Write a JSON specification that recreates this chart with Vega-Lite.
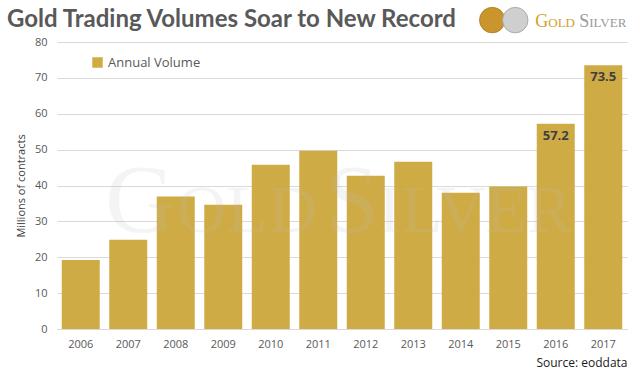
{
  "$schema": "https://vega.github.io/schema/vega-lite/v6.json",
  "width": 570,
  "height": 287,
  "autosize": {"type": "none"},
  "padding": {"left": 57, "top": 42, "right": 13, "bottom": 50},
  "background": "white",
  "config": {"view": {"stroke": null}, "font": "Lato"},
  "title": {
    "text": "Gold Trading Volumes Soar to New Record",
    "anchor": "start",
    "frame": "group",
    "dx": -50,
    "offset": -26,
    "font": "Lato",
    "fontSize": 24,
    "fontWeight": "bold",
    "color": "#595959"
  },
  "datasets": {
    "volumes": [
      {"year": "2006", "v": 19.2, "series": "Annual Volume"},
      {"year": "2007", "v": 24.9, "series": "Annual Volume"},
      {"year": "2008", "v": 36.9, "series": "Annual Volume"},
      {"year": "2009", "v": 34.6, "series": "Annual Volume"},
      {"year": "2010", "v": 45.8, "series": "Annual Volume"},
      {"year": "2011", "v": 49.7, "series": "Annual Volume"},
      {"year": "2012", "v": 42.7, "series": "Annual Volume"},
      {"year": "2013", "v": 46.6, "series": "Annual Volume"},
      {"year": "2014", "v": 38.0, "series": "Annual Volume"},
      {"year": "2015", "v": 39.7, "series": "Annual Volume"},
      {"year": "2016", "v": 57.2, "series": "Annual Volume"},
      {"year": "2017", "v": 73.5, "series": "Annual Volume"}
    ],
    "labels": [
      {"year": "2016", "v": 57.2},
      {"year": "2017", "v": 73.5}
    ],
    "watermark": [
      {"year": "2011", "v": 27, "big1": "G", "small1": "OLD", "big2": "S", "small2": "ILVER"}
    ],
    "logo": [
      {"year": "2017", "v": 84.2, "big1": "G", "small1": "OLD", "big2": "S", "small2": "ILVER"}
    ],
    "coins": [
      {"year": "2015", "v": 86.1, "metal": "gold"},
      {"year": "2015", "v": 86.1, "metal": "silver"}
    ]
  },
  "encoding": {
    "x": {
      "field": "year",
      "type": "ordinal",
      "scale": {"paddingInner": 0.2, "paddingOuter": 0.1},
      "axis": {
        "labelAngle": 0,
        "labelFontSize": 11,
        "labelColor": "#595959",
        "labelFont": "Open Sans",
        "labelPadding": 9,
        "tickSize": 0,
        "domainColor": "#d9d9d9",
        "title": "Source: eoddata",
        "titleAnchor": "end",
        "titleFont": "Open Sans",
        "titleFontSize": 12,
        "titleFontWeight": "normal",
        "titleColor": "#1a1a1a",
        "titlePadding": 8
      }
    },
    "y": {
      "field": "v",
      "type": "quantitative",
      "scale": {"domain": [0, 80]},
      "axis": {
        "values": [0, 10, 20, 30, 40, 50, 60, 70, 80],
        "domain": false,
        "ticks": false,
        "labelPadding": 10,
        "labelFont": "Open Sans",
        "labelFontSize": 11,
        "labelColor": "#595959",
        "gridColor": "#d9d9d9",
        "title": "Millions of contracts",
        "titleFont": "Open Sans",
        "titleFontSize": 11,
        "titleFontWeight": "normal",
        "titleColor": "#404040",
        "titlePadding": 8
      }
    }
  },
  "layer": [
    {
      "data": {"name": "volumes"},
      "mark": {"type": "bar", "color": "#CFAB45"},
      "encoding": {
        "color": {
          "field": "series",
          "type": "nominal",
          "scale": {"range": ["#CFAB45"]},
          "legend": {
            "title": null,
            "orient": "none",
            "legendX": 34,
            "legendY": 14,
            "symbolType": "square",
            "symbolSize": 110,
            "symbolOpacity": 1,
            "labelFont": "Open Sans",
            "labelFontSize": 13,
            "labelColor": "#595959"
          }
        }
      }
    },
    {
      "data": {"name": "watermark"},
      "mark": {"type": "text", "font": "Liberation Serif", "fontSize": 97, "color": "#bfbfbf", "opacity": 0.16, "align": "left", "baseline": "alphabetic", "dx": -213},
      "encoding": {"text": {"field": "big1"}}
    },
    {
      "data": {"name": "watermark"},
      "mark": {"type": "text", "font": "Liberation Serif", "fontSize": 68, "color": "#bfbfbf", "opacity": 0.16, "align": "left", "baseline": "alphabetic", "dx": -141},
      "encoding": {"text": {"field": "small1"}}
    },
    {
      "data": {"name": "watermark"},
      "mark": {"type": "text", "font": "Liberation Serif", "fontSize": 97, "color": "#bfbfbf", "opacity": 0.16, "align": "left", "baseline": "alphabetic", "dx": 7},
      "encoding": {"text": {"field": "big2"}}
    },
    {
      "data": {"name": "watermark"},
      "mark": {"type": "text", "font": "Liberation Serif", "fontSize": 68, "color": "#bfbfbf", "opacity": 0.16, "align": "left", "baseline": "alphabetic", "dx": 60},
      "encoding": {"text": {"field": "small2"}}
    },
    {
      "data": {"name": "labels"},
      "mark": {"type": "text", "baseline": "top", "dy": 6, "font": "Open Sans", "fontSize": 13, "fontWeight": "bold", "color": "#404040"},
      "encoding": {
        "text": {"field": "v", "type": "quantitative", "format": ".1f"}
      }
    },
    {
      "data": {"name": "coins"},
      "transform": [{"filter": "datum.metal === 'gold'"}],
      "mark": {"type": "point", "filled": true, "shape": "circle", "size": 650, "clip": false, "opacity": 1, "color": "#C9952C", "stroke": "#A87A1E", "strokeWidth": 0.8, "xOffset": -16},
      "encoding": {}
    },
    {
      "data": {"name": "coins"},
      "transform": [{"filter": "datum.metal === 'silver'"}],
      "mark": {"type": "point", "filled": true, "shape": "circle", "size": 650, "clip": false, "opacity": 1, "color": "#CFCFCF", "stroke": "#9E9E9E", "strokeWidth": 0.8, "xOffset": 7},
      "encoding": {}
    },
    {
      "data": {"name": "logo"},
      "mark": {"type": "text", "font": "Liberation Serif", "fontSize": 18, "color": "#D4A22B", "align": "left", "baseline": "alphabetic", "dx": -68, "clip": false},
      "encoding": {"text": {"field": "big1"}}
    },
    {
      "data": {"name": "logo"},
      "mark": {"type": "text", "font": "Liberation Serif", "fontSize": 13, "color": "#D4A22B", "align": "left", "baseline": "alphabetic", "dx": -55, "clip": false},
      "encoding": {"text": {"field": "small1"}}
    },
    {
      "data": {"name": "logo"},
      "mark": {"type": "text", "font": "Liberation Serif", "fontSize": 18, "color": "#9A9A9A", "align": "left", "baseline": "alphabetic", "dx": -24, "clip": false},
      "encoding": {"text": {"field": "big2"}}
    },
    {
      "data": {"name": "logo"},
      "mark": {"type": "text", "font": "Liberation Serif", "fontSize": 13, "color": "#9A9A9A", "align": "left", "baseline": "alphabetic", "dx": -14, "clip": false},
      "encoding": {"text": {"field": "small2"}}
    }
  ]
}
